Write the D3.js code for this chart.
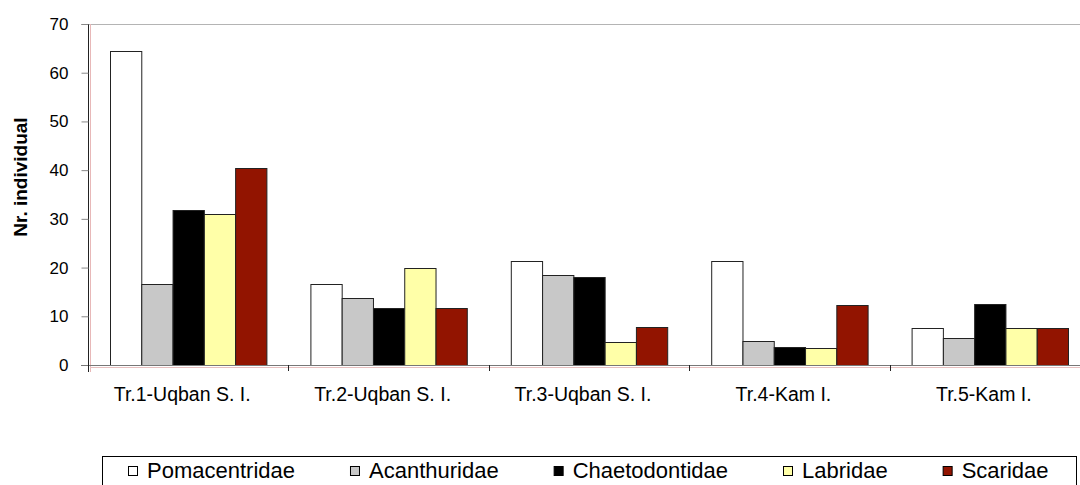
<!DOCTYPE html>
<html>
<head>
<meta charset="utf-8">
<script src="https://cdn.jsdelivr.net/npm/d3@7"></script>
<style>
  body { margin: 0; background: #fff; }
  text { font-family: Arial, "Liberation Sans", sans-serif; fill: #000; }
</style>
</head>
<body>
<script>
// transects and fish families
var transects = ["Tr.1-Uqban S. I.", "Tr.2-Uqban S. I.", "Tr.3-Uqban S. I.", "Tr.4-Kam I.", "Tr.5-Kam I."];
var families = ["Pomacentridae", "Acanthuridae", "Chaetodontidae", "Labridae", "Scaridae"];
var familyColors = ["#ffffff", "#c8c8c8", "#000000", "#ffffa8", "#921400"];

// number of individuals per family, one array per transect
var tr1 = [64.5, 16.6, 31.8, 30.9, 40.5];
var tr2 = [16.6, 13.8, 11.8, 19.9, 11.8];
var tr3 = [21.3, 18.5, 18.0, 4.8, 7.7];
var tr4 = [21.3, 4.9, 3.6, 3.5, 12.4];
var tr5 = [7.6, 5.5, 12.5, 7.6, 7.6];

var yTicks = [0, 10, 20, 30, 40, 50, 60, 70];

function v1() {
  var width = 1080;
  var height = 485;
  var left = 88, right = 1090, top = 24, bottom = 365;

  var svg = d3.select("body").append("svg")
      .attr("width", width)
      .attr("height", height);

  var rows = [tr1, tr2, tr3, tr4, tr5];
  var data = transects.map(function(t, i) {
    return { name: t, values: families.map(function(f, j) { return { family: f, value: rows[i][j], idx: j }; }) };
  });

  var x0 = d3.scaleBand().domain(transects).range([left, right]);
  var x1 = d3.scaleBand().domain(families).range([22, x0.bandwidth() - 22]);
  var y = d3.scaleLinear().domain([0, 70]).range([bottom, top]);
  var color = d3.scaleOrdinal().domain(families).range(familyColors);

  // top border of plot
  svg.append("line")
      .attr("x1", left - 7).attr("x2", width)
      .attr("y1", top + 0.5).attr("y2", top + 0.5)
      .attr("stroke", "#b4b4b4");

  // faint pink shadow lines
  svg.append("line")
      .attr("x1", left + 2.5).attr("x2", left + 2.5)
      .attr("y1", top).attr("y2", bottom + 7)
      .attr("stroke", "#e8b8b8");
  svg.append("line")
      .attr("x1", left + 2).attr("x2", width)
      .attr("y1", bottom + 2.5).attr("y2", bottom + 2.5)
      .attr("stroke", "#e8c0c0");

  // bars
  var groups = svg.append("g").selectAll("g")
      .data(data)
      .enter().append("g")
      .attr("transform", function(d) { return "translate(" + x0(d.name) + ",0)"; });

  groups.selectAll("rect")
      .data(function(d) { return d.values; })
      .enter().append("rect")
      .attr("x", function(d) { return x1(d.family) + 0.5; })
      .attr("y", function(d) { return Math.round(y(d.value)) + 0.5; })
      .attr("width", x1.bandwidth())
      .attr("height", function(d) { return bottom - Math.round(y(d.value)); })
      .attr("fill", function(d) { return color(d.family); })
      .attr("stroke", "#222")
      .attr("stroke-width", 1);

  // y axis
  var yAxis = svg.append("g")
      .attr("transform", "translate(" + (left + 0.5) + ",0)")
      .call(d3.axisLeft(y).tickValues(yTicks).tickSize(7).tickPadding(13));
  yAxis.select(".domain").attr("stroke", "#222").attr("d", "M0," + top + "V" + (bottom + 7));
  yAxis.selectAll(".tick line").attr("stroke", "#888");
  yAxis.selectAll(".tick text")
      .style("font-size", "17px")
      .style("font-family", "Arial, 'Liberation Sans', sans-serif")
      .attr("fill", "#000");

  // x axis baseline and ticks at band boundaries
  svg.append("line")
      .attr("x1", left - 7).attr("x2", width)
      .attr("y1", bottom + 0.5).attr("y2", bottom + 0.5)
      .attr("stroke", "#777");
  var bounds = transects.map(function(t) { return x0(t); }).concat([right]);
  svg.append("g").selectAll("line")
      .data(bounds)
      .enter().append("line")
      .attr("x1", function(d) { return Math.round(d) + 0.5; })
      .attr("x2", function(d) { return Math.round(d) + 0.5; })
      .attr("y1", bottom).attr("y2", bottom + 6)
      .attr("stroke", "#222");

  svg.append("g").selectAll("text")
      .data(transects)
      .enter().append("text")
      .attr("x", function(d) { return x0(d) + x0.bandwidth() / 2 - 6; })
      .attr("y", 401)
      .attr("text-anchor", "middle")
      .style("font-size", "19.5px")
      .text(function(d) { return d; });

  // y title
  svg.append("text")
      .attr("transform", "translate(27,177) rotate(-90)")
      .attr("text-anchor", "middle")
      .style("font-size", "19px")
      .style("font-weight", "bold")
      .text("Nr. individual");

  // legend
  var legend = svg.append("g");
  legend.append("rect")
      .attr("x", 102.5).attr("y", 456.5)
      .attr("width", 974).attr("height", 40)
      .attr("fill", "#fff")
      .attr("stroke", "#000");

  var lx = 128;
  families.forEach(function(f, i) {
    legend.append("rect")
        .attr("x", lx + 0.5).attr("y", 466.5)
        .attr("width", 9).attr("height", 9)
        .attr("fill", familyColors[i])
        .attr("stroke", "#000");
    var t = legend.append("text")
        .attr("x", lx + 19)
        .attr("y", 478)
        .style("font-size", "22px")
        .text(f);
    lx = lx + 19 + t.node().getComputedTextLength() + 55;
  });
}
v1();
</script>
</body>
</html>
